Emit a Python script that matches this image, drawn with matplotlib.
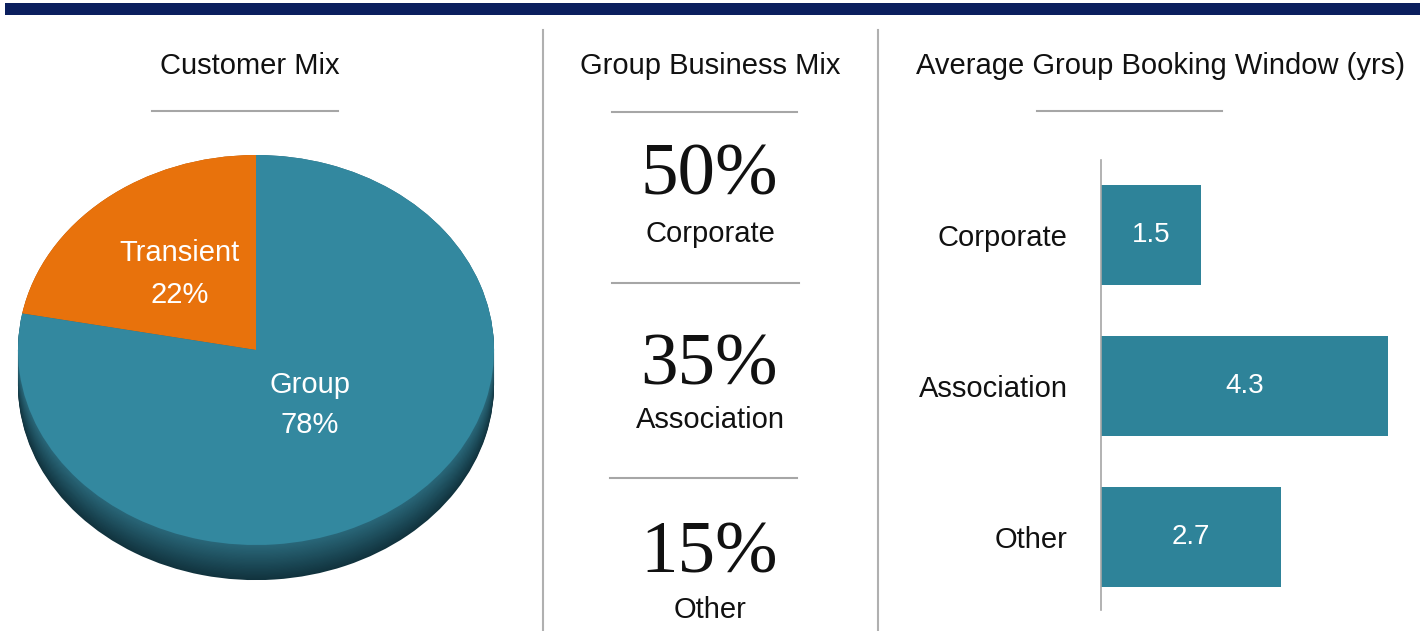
import matplotlib
matplotlib.use("Agg")
import matplotlib.pyplot as plt
import numpy as np

# ---- data ----
pie_labels = ["Transient", "Group"]
pie_values = [22, 78]
mix_labels = ["Corporate", "Association", "Other"]
mix_values = [50, 35, 15]
bar_categories = ["Corporate", "Association", "Other"]
bar_values = [1.5, 4.3, 2.7]

titles = ["Customer Mix", "Group Business Mix", "Average Group Booking Window (yrs)"]

SANS = ["Liberation Sans", "DejaVu Sans"]
SERIF = ["Liberation Serif", "DejaVu Serif"]
plt.rcParams["font.family"] = SANS

W, H = 1426, 631
fig = plt.figure(figsize=(W / 100, H / 100), dpi=100)
fig.patch.set_facecolor("white")

TEAL = "#33889f"
BAR = "#2e8399"
ORANGE = "#e8720c"
GRAY = "#a6a6a6"
NAVY = "#0b1f5e"
TXT = "#111111"
FS = 21

def px_axes(x0, y0, x1, y1):
    # pixel box (top-left origin) -> figure axes
    return fig.add_axes([x0 / W, 1 - y1 / H, (x1 - x0) / W, (y1 - y0) / H])

# ---- 3D-looking pie ----
cx, cy = 256, 350          # pixel centre of top face
a, b = 238, 195            # semi axes in pixels
depth = 0.18               # in y data units
xl = (-1.05, 1.05)
yl = (-1.32, 1.06)
pax = px_axes(cx - a * 1.05, cy - b * yl[1], cx + a * 1.05, cy - b * yl[0])
side_top = np.array([0x2a, 0x68, 0x7a]) / 255
side_bot = np.array([0x11, 0x33, 0x3e]) / 255
oside_top = np.array([0xb0, 0x55, 0x08]) / 255
oside_bot = np.array([0x80, 0x3d, 0x05]) / 255
N = 30
for k in range(N + 1):
    t = k / N
    c_teal = side_bot * (1 - t) + side_top * t
    c_or = oside_bot * (1 - t) + oside_top * t
    pax.pie(pie_values, startangle=90, counterclock=True,
            colors=[c_or, c_teal], center=(0, -depth + depth * t),
            wedgeprops=dict(linewidth=0), radius=1.0)
wedges, _ = pax.pie(pie_values, startangle=90, counterclock=True,
                    colors=[ORANGE, TEAL], center=(0, 0),
                    wedgeprops=dict(linewidth=0), radius=1.0)
pax.set_aspect("auto")
pax.set_xlim(*xl)
pax.set_ylim(*yl)
pax.axis("off")

# ---- bar chart ----
bx0, bpx_per_unit = 1101, 66.7
bax = px_axes(bx0, 160, bx0 + 4.6 * bpx_per_unit, 610)
ypos = np.arange(len(bar_categories))
bars = bax.barh(ypos, bar_values, height=0.66, color=BAR, linewidth=0)
bax.set_xlim(0, 4.6)
bax.set_ylim(2.483, -0.497)
bax.set_yticks(ypos)
bax.set_yticklabels(bar_categories, fontsize=FS, color=TXT)
bax.tick_params(axis="y", length=0, pad=24)
bax.set_xticks([])
for s in ["top", "right", "bottom"]:
    bax.spines[s].set_visible(False)
bax.spines["left"].set_color(GRAY)
bax.spines["left"].set_linewidth(1.2)
for yv, v in zip(ypos, bar_values):
    bax.text(v / 2, yv, f"{v:.1f}", ha="center", va="center",
             color="white", fontsize=20)

# ---- overlay: decoration and text ----
ov = fig.add_axes([0, 0, 1, 1])
ov.set_xlim(0, W)
ov.set_ylim(H, 0)
ov.axis("off")
ov.patch.set_visible(False)

ov.add_patch(plt.Rectangle((5, 3), 1415, 12, color=NAVY, lw=0))
ov.plot([543, 543], [30, 631], color="#b0b0b0", lw=1.5)
ov.plot([878, 878], [30, 631], color="#b0b0b0", lw=1.5)

title_x = [250, 710, 1161]
for tx, t in zip(title_x, titles):
    ov.text(tx, 66, t, ha="center", va="center", fontsize=FS, color=TXT)

ov.plot([152, 338], [111, 111], color=GRAY, lw=1.5)
ov.plot([1037, 1222], [111, 111], color=GRAY, lw=1.5)
for y, (x0, x1) in zip([112, 283, 478], [(612, 797), (612, 799), (610, 797)]):
    ov.plot([x0, x1], [y, y], color=GRAY, lw=1.5)

# pie labels
ov.text(180, 253, pie_labels[0], ha="center", va="center", color="white", fontsize=FS)
ov.text(180, 295, f"{pie_values[0]}%", ha="center", va="center", color="white", fontsize=FS)
ov.text(310, 385, pie_labels[1], ha="center", va="center", color="white", fontsize=FS)
ov.text(310, 425, f"{pie_values[1]}%", ha="center", va="center", color="white", fontsize=FS)

# group business mix
num_y = [177, 367, 555]
lab_y = [234, 420, 610]
for v, lab, ny, ly in zip(mix_values, mix_labels, num_y, lab_y):
    ov.text(709, ny, f"{v}%", ha="center", va="center", fontsize=54,
            family=SERIF, color=TXT)
    ov.text(710, ly, lab, ha="center", va="center", fontsize=FS, color=TXT)

fig.savefig("out.png", dpi=100, facecolor="white")
